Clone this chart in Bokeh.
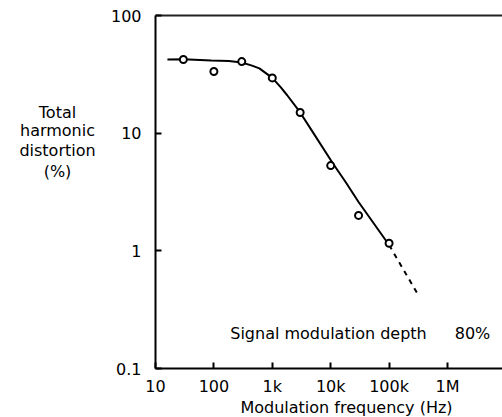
from bokeh.plotting import figure
from bokeh.models import Range1d, FixedTicker, LogAxis, Label
from bokeh.layouts import row, column
from bokeh.core.properties import value
from bokeh.embed import file_html
from bokeh.resources import INLINE

# ---- data ----
pts_x = [30, 100, 300, 1000, 3000, 10000, 30000, 100000]
pts_y = [42.3, 33.4, 40.6, 29.5, 15.0, 5.3, 2.0, 1.16]

curve_x = [16, 30, 90, 180, 300, 450, 600, 1000, 1400, 1800, 3000, 5000, 11000, 18000, 30000, 100000]
curve_y = [42.3, 42.5, 41.5, 41.0, 39.8, 37.5, 35.5, 29.5, 24.5, 21.0, 15.0, 10.1, 5.5, 3.85, 2.6, 1.12]

extrap_x = [100000, 300000]
extrap_y = [1.12, 0.44]

x_ticks = [10, 100, 1000, 10000, 100000, 1000000]
x_tick_labels = ["10", "100", "1k", "10k", "100k", "1M"]
y_ticks = [0.1, 1, 10, 100]
y_tick_labels = ["0.1", "1", "10", "100"]

y_title_lines = ["Total", "harmonic", "distortion", "(%)"]
x_title = "Modulation frequency (Hz)"
note_text = "Signal modulation depth"
note_value = "80%"

FONT = "DejaVu Sans"
FS = "16px"

# ---- main plot ----
FRAME_LEFT = 155  # page px of frame's left edge (left panel is 100 wide)
p = figure(width=402, height=398, x_axis_type="log", y_axis_type="log",
           x_range=Range1d(10, 10 ** 6.942), y_range=Range1d(0.1, 100),
           output_backend="svg", toolbar_location=None,
           min_border_left=55, min_border_right=0, min_border_top=15,
           min_border_bottom=30)
p.grid.visible = False
p.outline_line_color = None

xa = p.xaxis[0]
ya = p.yaxis[0]
xa.ticker = FixedTicker(ticks=x_ticks)
ya.ticker = FixedTicker(ticks=y_ticks)
xa.major_label_overrides = {t: l for t, l in zip(x_ticks, x_tick_labels)}
ya.major_label_overrides = {t: l for t, l in zip(y_ticks, y_tick_labels)}
for ax in (xa, ya):
    ax.axis_line_width = 2
    ax.axis_line_color = "black"
    ax.major_tick_in = 6
    ax.major_tick_out = 0
    ax.major_tick_line_width = 2
    ax.major_tick_line_color = "black"
    ax.minor_tick_line_color = None
    ax.major_label_text_font = FONT
    ax.major_label_text_font_size = FS
    ax.major_label_text_color = "black"
xa.major_label_standoff = 8
ya.major_label_standoff = 14

top = LogAxis(ticker=FixedTicker(ticks=[]), axis_line_width=2, axis_line_color="#222222",
              major_tick_line_color=None, minor_tick_line_color=None,
              major_label_text_font_size="0px", major_label_standoff=0)
p.add_layout(top, "above")

p.line(curve_x, curve_y, line_color="black", line_width=2)
p.line(extrap_x, extrap_y, line_color="black", line_width=2, line_dash="5 5")
p.scatter(pts_x, pts_y, marker="circle", size=7, fill_color="white",
          line_color="black", line_width=2)

def px_x(px):
    return 10 ** (1 + (px - FRAME_LEFT) / 58.4)

def px_y(py):
    return 10 ** (2 - (py - 15) / 117.7)

for txt, cx in ((note_text, 328), (note_value, 472)):
    p.add_layout(Label(x=px_x(cx), y=px_y(333), text=txt, text_align="center",
                       text_baseline="middle", text_font=FONT,
                       text_font_size=FS, text_color="black"))

# ---- left panel: y-axis title (horizontal lines) ----
lp = figure(width=100, height=398, x_range=Range1d(0, 100), y_range=Range1d(398, 0),
            output_backend="svg", toolbar_location=None,
            x_axis_location=None, y_axis_location=None,
            min_border=0)
lp.grid.visible = False
lp.outline_line_color = None
lp.text(x=[57] * 4, y=[109, 130, 152, 176], text=y_title_lines,
        text_align="center", text_baseline="middle",
        text_font=value(FONT), text_font_size=FS, text_color="black")

# ---- bottom panel: x-axis title ----
bp = figure(width=502, height=19, x_range=Range1d(0, 502), y_range=Range1d(19, 0),
            output_backend="svg", toolbar_location=None,
            x_axis_location=None, y_axis_location=None,
            min_border=0)
bp.grid.visible = False
bp.outline_line_color = None
bp.text(x=[346], y=[9], text=[x_title], text_align="center",
        text_baseline="middle", text_font=value(FONT),
        text_font_size=FS, text_color="black")

layout = column(row(lp, p, spacing=0), bp, spacing=0)
open("out.html", "w").write(file_html(layout, INLINE))
